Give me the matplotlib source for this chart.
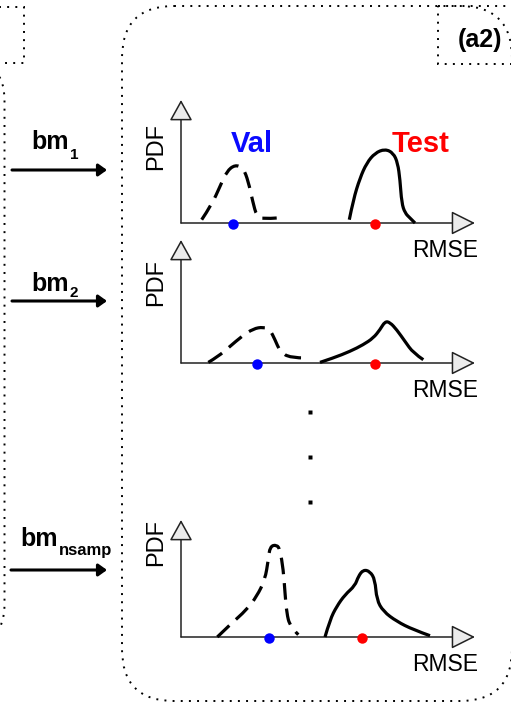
import matplotlib
matplotlib.use("Agg")
import matplotlib.pyplot as plt
from matplotlib.patches import FancyBboxPatch, FancyArrowPatch, PathPatch
from matplotlib.path import Path

plt.rcParams["font.family"] = ["Liberation Sans", "DejaVu Sans"]

# ── data (RMSE offset along axis, PDF height) ────────────────────────────────
val1_x  = [20.7, 30.7, 39, 45.7, 54, 62.3, 67.3, 71.7, 75.7, 82.3, 95.7]
val1_y  = [3.3, 18.3, 36.6, 51.6, 58.3, 55, 41.6, 21.6, 6.6, 4, 5]
test1_x = [168.3, 172.3, 179, 185.7, 194, 204, 212.3, 216.7, 219, 220.7, 224, 229, 234]
test1_y = [3.3, 23.3, 45, 60, 70, 74, 70, 60, 43.3, 20, 10, 5, 0]

val2_x  = [27.3, 37.3, 49, 60.7, 72.3, 82.3, 89, 94, 99, 109, 125.7]
val2_y  = [0.6, 6.6, 16.6, 26.6, 34.3, 36, 33.3, 23.3, 11.6, 5, 5]
test2_x = [139, 152.3, 169, 182.3, 192.3, 199, 204, 209, 215.7, 224, 232.3, 242.3]
test2_y = [0.6, 5, 11.6, 18.3, 25, 33.3, 41.6, 40.6, 33.3, 21.6, 10, 3.3]

val3_x  = [36.3, 49, 65.7, 75.7, 84, 87.3, 89, 95.7, 99, 102.3, 104, 105.7, 109, 117.3]
val3_y  = [0, 12.3, 27.3, 40.6, 57.3, 77.3, 90.6, 92.3, 87.3, 67.3, 44, 24, 10.6, 2.3]
test3_x = [144, 149, 155.7, 164, 174, 177.3, 182.3, 189, 194, 195.7, 202.3, 215.7, 232.3, 249]
test3_y = [0, 17.3, 30.6, 42.3, 51.3, 60.6, 67.3, 65.6, 57.3, 37.3, 25.6, 15.6, 7.3, 1.3]

val_mean  = [51.7, 75.7, 88.3]
test_mean = [194, 194, 181]

bm_labels = ["bm", "bm", "bm"]
bm_subs   = ["1", "2", "nsamp"]

# ── canvas in pixel units ────────────────────────────────────────────────────
W, H = 511, 703
fig = plt.figure(figsize=(W / 100, H / 100), dpi=100)
bg = fig.add_axes([0, 0, 1, 1])
bg.set_xlim(0, W)
bg.set_ylim(H, 0)
bg.axis("off")


def dotted_box(x0, y0, x1, y1, r=0):
    style = f"round,pad=0,rounding_size={r}" if r else "square,pad=0"
    bg.add_patch(FancyBboxPatch((x0, y0), x1 - x0, y1 - y0, boxstyle=style,
                                fill=False, ec="black", lw=1.4,
                                linestyle=(0, (1, 3.2)), clip_on=False))


def smooth_curve(ax, xs, ys, **kw):
    # quadratic bezier through the midpoints, read points act as controls
    pts = list(zip(xs, ys))
    verts = [pts[0]]
    codes = [Path.MOVETO]
    for k in range(1, len(pts) - 1):
        mid = ((pts[k][0] + pts[k + 1][0]) / 2, (pts[k][1] + pts[k + 1][1]) / 2)
        if k == len(pts) - 2:
            mid = pts[-1]
        verts += [pts[k], mid]
        codes += [Path.CURVE3, Path.CURVE3]
    ax.add_patch(PathPatch(Path(verts, codes), fill=False, ec="black", lw=2.3,
                           joinstyle="round", capstyle="butt", clip_on=False,
                           zorder=3, **kw))


dotted_box(-60, 7, 24, 63)
dotted_box(-120, 60, 4.5, 645, 40)
dotted_box(122, 6, 512, 701, 52)
dotted_box(438, 6, 560, 64)
bg.text(480, 40, "(a2)", fontsize=18, fontweight="bold", ha="center", va="center")

# ── bm arrows ────────────────────────────────────────────────────────────────
arrow_y = [170, 301, 570]
lab_x   = [31, 31, 20]
sub_x   = [70, 70, 59]
lab_base = [149, 291, 546]
sub_base = [159, 297, 555]
sub_size = [11, 11, 12]
for i in range(3):
    x0 = 11 if i == 2 else 12
    bg.add_patch(FancyArrowPatch((x0, arrow_y[i]), (107, arrow_y[i]),
                                 arrowstyle="-|>,head_length=0.5,head_width=0.36",
                                 mutation_scale=10, color="black", lw=2.2,
                                 shrinkA=0, shrinkB=0))
    bg.text(lab_x[i], lab_base[i], bm_labels[i], fontsize=18, fontweight="bold",
            ha="left", va="baseline")
    bg.text(sub_x[i], sub_base[i], bm_subs[i], fontsize=sub_size[i], fontweight="bold",
            ha="left", va="baseline")

# ── three PDF panels ─────────────────────────────────────────────────────────
bases = [223, 363, 637]
tips  = [100, 240, 520]
vals  = [(val1_x, val1_y), (val2_x, val2_y), (val3_x, val3_y)]
tests = [(test1_x, test1_y), (test2_x, test2_y), (test3_x, test3_y)]
pdf_y = [147, 282, 543]
x0_px, x1_px = 181, 475

for i in range(3):
    base, tip = bases[i], tips[i]
    ax = fig.add_axes([x0_px / W, 1 - base / H, (x1_px - x0_px) / W, (base - tip) / H])
    ax.set_xlim(0, x1_px - x0_px)
    ax.set_ylim(0, base - tip)
    ax.axis("off")
    ax.annotate("", xy=(x1_px - x0_px, 0), xytext=(0, 0), annotation_clip=False,
                arrowprops=dict(arrowstyle="-|>,head_length=1.5,head_width=0.75",
                                fc="#ececec", ec="#222222", lw=1.1,
                                shrinkA=0, shrinkB=0, mutation_scale=10))
    ax.annotate("", xy=(0, base - tip), xytext=(0, 0), annotation_clip=False,
                arrowprops=dict(arrowstyle="-|>,head_length=1.3,head_width=0.72",
                                fc="#ececec", ec="#222222", lw=1.1,
                                shrinkA=0, shrinkB=0, mutation_scale=10))
    vx, vy = vals[i]
    tx, ty = tests[i]
    smooth_curve(ax, vx, vy, linestyle=(0, (5.2, 2.8)))
    smooth_curve(ax, tx, ty)
    ax.plot([val_mean[i]], [-1], "o", color="#0000ff", ms=7.5, mec="none",
            clip_on=False, zorder=5)
    ax.plot([test_mean[i]], [-1], "o", color="#ff0000", ms=7.5, mec="none",
            clip_on=False, zorder=5)

    bg.text(156, pdf_y[i], "PDF", rotation=90, fontsize=17, ha="center", va="center")
    bg.text(445, base + 34, "RMSE", fontsize=16.5, ha="center", va="baseline")

bg.text(252, 152, "Val", color="#0a0aff", fontsize=21, fontweight="bold",
        ha="center", va="baseline")
bg.text(421, 152, "Test", color="#ff0000", fontsize=21, fontweight="bold",
        ha="center", va="baseline")

# vertical ellipsis between panels
bg.plot([310, 310, 310], [412, 457, 502], "s", color="black", ms=2.3, mec="none")

fig.savefig("out.png", dpi=100, facecolor="white")
